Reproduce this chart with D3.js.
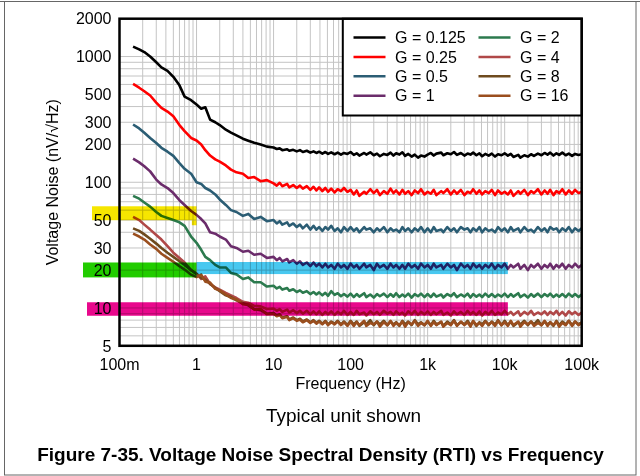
<!DOCTYPE html>
<html>
<head>
<meta charset="utf-8">
<script src="https://cdn.jsdelivr.net/npm/d3@7"></script>
<style>
  body { margin: 0; background: #fff; }
  text { font-family: "Liberation Sans", Arial, sans-serif; fill: #000; }
</style>
</head>
<body>
<svg id="chart" width="640" height="476"></svg>
<script>
// frequency points (Hz) shared by every curve
var freq = [0.15, 0.18, 0.21, 0.25, 0.3, 0.35, 0.42, 0.5, 0.6, 0.7, 0.85, 1, 1.15, 1.3, 1.5, 1.75, 2, 2.4, 2.8, 3.3, 4, 4.7, 5.6, 6.8, 8.2,
  10, 11, 12, 13, 15, 16, 18, 20, 22, 24, 27, 30, 33, 36, 39, 43, 47, 51, 56, 62, 68, 75, 82, 91,
  100, 110, 120, 130, 150, 160, 180, 200, 220, 240, 270, 300, 330, 360, 390, 430, 470, 510, 560, 620, 680, 750, 820, 910,
  1000, 1100, 1200, 1300, 1500, 1600, 1800, 2000, 2200, 2400, 2700, 3000, 3300, 3600, 3900, 4300, 4700, 5100, 5600, 6200, 6800, 7500, 8200, 9100,
  10000, 11000, 12000, 13000, 15000, 16000, 18000, 20000, 22000, 24000, 27000, 30000, 33000, 36000, 39000, 43000, 47000, 51000, 56000, 62000, 68000, 75000, 82000, 91000,
  100000];

// noise (nV/rtHz), one list per gain
var g0125 = [1200, 1140, 1085, 1000, 900, 820, 770, 690, 590, 480, 450, 415, 385, 395, 315, 300, 285, 262, 248, 236, 222, 214, 206, 200, 192,
  189, 184, 186, 180, 183, 178, 181, 176, 180, 174, 178, 172, 176, 171, 175, 169, 174, 168, 173, 167, 172, 166, 171, 168,
  174, 165, 170, 163, 171, 166, 173, 164, 169, 161, 168, 165, 172, 163, 170, 166, 173, 162, 168, 160, 166, 157, 163, 160,
  166, 171, 163, 169, 172, 164, 170, 167, 174, 165, 171, 163, 169, 166, 172, 164, 170, 161, 168, 163, 169, 160, 167, 164,
  170, 163, 168, 159, 165, 157, 164, 160, 167, 162, 169, 164, 171, 166, 172, 163, 170, 165, 172, 164, 169, 162, 168, 165,
  167];
var g025 = [605, 565, 530, 490, 430, 390, 365, 335, 285, 255, 225, 215, 200, 180, 163, 152, 146, 136, 126, 120, 117, 108, 110, 102, 104,
  98, 94, 99, 93, 97, 91, 95, 90, 94, 89, 93, 87, 92, 86, 91, 85, 90, 84, 89, 83, 88, 85, 90, 84,
  87, 80, 86, 78, 84, 81, 88, 82, 87, 79, 85, 81, 89, 82, 86, 80, 87, 81, 85, 79, 86, 82, 88, 80,
  84, 81, 87, 79, 85, 82, 88, 80, 86, 81, 87, 79, 84, 82, 88, 81, 86, 80, 85, 82, 87, 79, 86, 81,
  84, 80, 86, 78, 85, 81, 87, 79, 85, 82, 88, 80, 86, 81, 87, 79, 85, 82, 88, 80, 86, 81, 87, 82,
  84];
var g05 = [288, 268, 248, 225, 205, 188, 175, 162, 142, 128, 117, 100, 97, 90, 86, 80, 73, 66, 60, 58, 54, 56, 51, 53, 49,
  50, 47, 49, 46, 48, 45, 47, 44, 46, 43, 46, 42, 45, 42, 44, 41, 44, 42, 45, 41, 43, 40, 44, 41,
  44, 41, 43, 40, 44, 42, 43, 40, 43, 41, 44, 40, 43, 41, 42, 40, 44, 41, 43, 40, 43, 41, 44, 40,
  43, 40, 44, 41, 42, 40, 44, 41, 43, 40, 44, 42, 43, 40, 43, 41, 44, 40, 43, 41, 42, 40, 44, 41,
  43, 40, 44, 41, 43, 40, 44, 41, 42, 40, 44, 41, 43, 40, 44, 42, 43, 40, 43, 41, 44, 40, 43, 41,
  43];
var g1 = [154, 144, 134, 122, 105, 96, 90, 82, 72, 66, 59, 55, 51, 47, 40, 39, 37, 35, 31, 30, 28, 28.5, 26.5, 27, 25,
  25.5, 24, 25, 23.5, 24.5, 23, 24, 22.5, 23.5, 22, 23, 21.5, 23, 21.5, 22.5, 21, 22.5, 21, 22, 20.5, 22.5, 21, 22, 20.5,
  22.5, 21, 22, 20.5, 22.5, 21, 22, 20, 22.5, 21, 22, 20.5, 22.5, 21, 22, 20.5, 22, 20.5, 22.5, 21, 22, 20.5, 22.5, 21,
  22, 20.5, 22.5, 21, 22, 20.5, 22.5, 21, 22, 20, 22.5, 21, 22, 20.5, 22.5, 21, 22, 20.5, 22, 21, 22.5, 20.5, 22, 21,
  22.5, 20.5, 22, 21, 22.5, 20.5, 22, 20, 22, 21, 22.5, 20.5, 22, 21, 22.5, 20.5, 22, 21, 22.5, 20.5, 22, 21, 22.5, 21,
  22];
var g2 = [78, 74, 69, 64, 58, 54, 52, 50, 48, 45, 37, 33, 29, 25.5, 24, 22, 21, 21, 19, 18.5, 17, 17.5, 16, 16, 14.8,
  15, 14.3, 14.7, 14, 14.4, 13.7, 14.1, 13.4, 13.8, 13.2, 13.6, 12.9, 13.4, 12.8, 13.3, 12.6, 13.2, 12.5, 13.6, 12.7, 13.1, 12.4, 12.9, 12.3,
  13, 12.2, 12.9, 12.3, 13.1, 12.2, 12.8, 12.1, 12.9, 12.4, 13, 12.2, 12.9, 12.3, 13.1, 12.2, 12.8, 12.3, 13, 12.1, 12.9, 12.4, 13, 12.2,
  12.9, 12.2, 13, 12.3, 12.8, 12.1, 12.9, 12.4, 13.1, 12.2, 12.8, 12.3, 13, 12.1, 12.9, 12.3, 12.8, 12.2, 13, 12.3, 12.9, 12.2, 12.8, 12.3,
  13, 12.2, 12.9, 12.3, 13.1, 12.2, 12.8, 12.1, 12.9, 12.3, 13, 12.2, 12.9, 12.4, 13, 12.2, 12.8, 12.3, 12.9, 12.2, 13, 12.3, 12.9, 12.2,
  12.8];
var g4 = [53, 50, 46, 42, 38, 35, 31, 27.5, 25, 23, 20, 18.8, 17, 17.8, 15.5, 14.6, 14, 13.2, 12.6, 12, 11.2, 11, 10.4, 10.3, 9.8,
  9.9, 9.5, 9.8, 9.3, 9.7, 9.2, 9.6, 9.1, 9.5, 9, 9.5, 8.9, 9.4, 8.9, 9.4, 8.8, 9.3, 8.9, 9.4, 8.8, 9.3, 8.9, 9.5, 8.8,
  9.3, 8.8, 9.5, 8.9, 9.2, 8.7, 9.4, 8.9, 9.3, 8.8, 9.5, 9, 9.3, 8.8, 9.4, 8.9, 9.2, 8.7, 9.4, 8.9, 9.5, 8.8, 9.3, 8.9,
  9.4, 8.8, 9.3, 8.9, 9.5, 8.8, 9.2, 8.7, 9.4, 8.9, 9.3, 8.8, 9.5, 8.9, 9.3, 8.8, 9.4, 8.7, 9.3, 8.9, 9.5, 8.8, 9.2, 8.9,
  9.5, 8.9, 9.3, 8.8, 9.4, 8.7, 9.3, 8.9, 9.5, 8.8, 9.2, 8.9, 9.4, 8.8, 9.3, 8.9, 9.5, 8.8, 9.3, 8.7, 9.4, 8.9, 9.3, 8.8,
  9.2];
var g8 = [43, 41, 38.5, 35.5, 32.5, 30, 27.5, 25.5, 23.5, 22, 20, 18.6, 17.4, 16.8, 15.6, 14.4, 13.6, 12.6, 12.2, 11.5, 10.9, 10.5, 9.8, 9.6, 9.0,
  9.1, 8.7, 8.9, 8.4, 8.6, 8.1, 8.4, 8.0, 8.2, 7.8, 8.1, 7.7, 8.0, 7.6, 7.9, 7.5, 7.9, 7.4, 7.8, 7.5, 7.9, 7.4, 7.8, 7.3,
  7.9, 7.4, 7.8, 7.2, 7.7, 7.4, 8.0, 7.3, 7.8, 7.4, 7.9, 7.3, 7.8, 7.4, 7.7, 7.2, 7.9, 7.4, 7.8, 7.3, 8.0, 7.4, 7.7, 7.3,
  7.8, 7.3, 7.9, 7.4, 7.7, 7.2, 7.8, 7.4, 8.0, 7.3, 7.7, 7.4, 7.9, 7.3, 7.8, 7.2, 7.7, 7.4, 7.9, 7.3, 7.8, 7.4, 8.0, 7.3,
  7.9, 7.3, 7.8, 7.2, 7.7, 7.4, 7.9, 7.3, 7.8, 7.4, 8.0, 7.3, 7.8, 7.4, 7.7, 7.2, 7.9, 7.3, 7.8, 7.4, 7.9, 7.3, 7.8, 7.4,
  7.7];
var g16 = [39, 37, 35, 32, 29.5, 27, 25, 23.3, 21.5, 20.2, 18.4, 17.6, 18.4, 16.2, 15.9, 14.2, 13.8, 12.8, 12.0, 11.7, 10.7, 10.6, 9.7, 9.8, 8.9,
  9.0, 8.6, 8.8, 8.3, 8.5, 8.0, 8.3, 7.9, 8.1, 7.7, 8.0, 7.6, 7.9, 7.5, 7.8, 7.4, 7.8, 7.3, 7.7, 7.4, 7.8, 7.3, 7.7, 7.2,
  7.8, 7.2, 7.7, 7.3, 7.9, 7.2, 7.6, 7.4, 7.8, 7.1, 7.7, 7.3, 7.9, 7.2, 7.6, 7.3, 7.8, 7.1, 7.7, 7.4, 7.9, 7.2, 7.6, 7.3,
  7.9, 7.2, 7.7, 7.3, 7.8, 7.1, 7.6, 7.3, 7.9, 7.2, 7.8, 7.3, 7.7, 7.1, 7.9, 7.3, 7.6, 7.2, 7.8, 7.4, 7.7, 7.2, 7.9, 7.3,
  7.7, 7.2, 7.9, 7.3, 7.8, 7.1, 7.7, 7.4, 7.8, 7.2, 7.6, 7.3, 7.9, 7.2, 7.7, 7.3, 7.8, 7.1, 7.6, 7.3, 7.9, 7.2, 7.8, 7.3,
  7.6];

var gainNames = ["G = 0.125", "G = 0.25", "G = 0.5", "G = 1", "G = 2", "G = 4", "G = 8", "G = 16"];
var gainValues = [g0125, g025, g05, g1, g2, g4, g8, g16];

var xTicks = [0.1, 1, 10, 100, 1000, 10000, 100000];
var xTickLabels = ["100m", "1", "10", "100", "1k", "10k", "100k"];
var yTicks = [2000, 1000, 500, 300, 200, 100, 50, 30, 20, 10, 5];

// highlight bands: noise level low/high and the frequency where they stop
var bandLow = [49.9, 18.6, 17.5, 8.67];
var bandHigh = [64.4, 23.2, 23.0, 11.1];
var bandEnd = [1, 11000, 1, 11000];

var colors = ["#000000", "#ff0000", "#2b5d74", "#6b2c6b", "#2c7a4e", "#b04848", "#6e4a1e", "#9a4e1e"];

// Set the dimensions and margins of the diagram
var margin = {top: 18.7, right: 58.3, bottom: 130.2, left: 119.5},
    width = 640 - margin.left - margin.right,
    height = 476 - margin.top - margin.bottom;

var svg = d3.select("#chart");

// outer page frame
svg.append("line").attr("x1", 0).attr("x2", 640).attr("y1", 1.5).attr("y2", 1.5)
    .attr("stroke", "#666").attr("stroke-width", 1);
svg.append("rect").attr("x", 4.5).attr("y", 1.5).attr("width", 631.5).attr("height", 473.5)
    .attr("fill", "none").attr("stroke", "#666").attr("stroke-width", 1);

var g = svg.append("g")
    .attr("transform", "translate(" + margin.left + "," + margin.top + ")");

var x = d3.scaleLog().domain([0.1, 100000]).range([0, width]);
var y = d3.scaleLog().domain([5, 2000]).range([height, 0]);

// ****************** grid ***************************
g.selectAll("line.vgrid")
    .data(x.ticks())
  .enter().append("line")
    .attr("class", "vgrid")
    .attr("x1", d => x(d)).attr("x2", d => x(d))
    .attr("y1", 0).attr("y2", height)
    .attr("stroke", "#c4c4c4").attr("stroke-width", 1);

g.selectAll("line.hgrid")
    .data(y.ticks())
  .enter().append("line")
    .attr("class", "hgrid")
    .attr("x1", 0).attr("x2", width)
    .attr("y1", d => y(d)).attr("y2", d => y(d))
    .attr("stroke", "#c4c4c4").attr("stroke-width", 1);

// ****************** curves ***************************
g.append("clipPath").attr("id", "plotclip")
  .append("rect").attr("width", width).attr("height", height);

var line = d3.line()
    .x(d => x(d[0]))
    .y(d => y(d[1]));

g.append("g").attr("clip-path", "url(#plotclip)")
  .selectAll("path.curve")
    .data(gainValues)
  .enter().append("path")
    .attr("class", "curve")
    .attr("fill", "none")
    .attr("stroke", (d, i) => colors[i])
    .attr("stroke-width", 2.6)
    .attr("stroke-linejoin", "round")
    .attr("d", d => line(d3.zip(freq, d)));

// ****************** highlight bands ***************************
// bands reach into the tick label column, so their left edge is an offset from the axis
var bandLeft = [-27.5, -36.5, -36.5, -32.5];
var bandStart = [null, 1, null, null];
var bandColor = ["#f6e600", "#48c8f0", "#22cc00", "#e8088c"];

var bands = g.append("g");
bandLow.forEach(function(lo, i) {
  var x0 = bandStart[i] ? x(bandStart[i]) : bandLeft[i];
  bands.append("rect")
      .attr("x", x0)
      .attr("y", y(bandHigh[i]))
      .attr("width", x(bandEnd[i]) - x0)
      .attr("height", y(lo) - y(bandHigh[i]))
      .attr("fill", bandColor[i])
      .style("mix-blend-mode", "multiply");
});
// small yellow tab hanging below the 50 band
bands.append("rect")
    .attr("x", x(0.87)).attr("y", y(bandLow[0]))
    .attr("width", x(1) - x(0.87)).attr("height", y(45.5) - y(bandLow[0]))
    .attr("fill", bandColor[0])
    .style("mix-blend-mode", "multiply");

// ****************** axes labels ***************************
g.selectAll("text.ytick")
    .data(yTicks)
  .enter().append("text")
    .attr("class", "ytick")
    .attr("x", -8)
    .attr("y", d => y(d))
    .attr("dy", "0.36em")
    .attr("text-anchor", "end")
    .style("font-size", "16px")
    .text(d => d);

g.selectAll("text.xtick")
    .data(xTicks)
  .enter().append("text")
    .attr("class", "xtick")
    .attr("x", d => x(d))
    .attr("y", height + 24)
    .attr("text-anchor", "middle")
    .style("font-size", "16px")
    .text((d, i) => xTickLabels[i]);

g.append("text")
    .attr("x", width / 2)
    .attr("y", height + 43)
    .attr("text-anchor", "middle")
    .style("font-size", "16px")
    .text("Frequency (Hz)");

g.append("text")
    .attr("transform", "translate(-67," + (height / 2) + ") rotate(-90)")
    .attr("text-anchor", "middle")
    .attr("dy", "0.36em")
    .style("font-size", "16px")
    .text("Voltage Noise (nV/\u221AHz)");

// ****************** legend ***************************
var legend = g.append("g");
legend.append("rect")
    .attr("x", 342.8 - margin.left).attr("y", 0)
    .attr("width", width - (342.8 - margin.left)).attr("height", 96.8)
    .attr("fill", "#fff").attr("stroke", "#000").attr("stroke-width", 2);

var items = legend.selectAll("g.item")
    .data(gainNames)
  .enter().append("g")
    .attr("class", "item")
    .attr("transform", function(d, i) {
      var col = Math.floor(i / 4), row = i % 4;
      return "translate(" + (353.5 - margin.left + col * 125) + "," + (37.5 - margin.top + row * 19.4) + ")";
    });
items.append("line")
    .attr("x1", 0).attr("x2", 32)
    .attr("stroke", (d, i) => colors[i])
    .attr("stroke-width", 2.5);
items.append("text")
    .attr("x", 41.5)
    .attr("dy", "0.36em")
    .style("font-size", "16px")
    .text(d => d);

// plot frame on top
g.append("rect")
    .attr("width", width).attr("height", height)
    .attr("fill", "none").attr("stroke", "#000").attr("stroke-width", 2.5);

// ****************** captions ***************************
svg.append("text")
    .attr("x", 343.5).attr("y", 421.5)
    .attr("text-anchor", "middle")
    .style("font-size", "19px")
    .text("Typical unit shown");

svg.append("text")
    .attr("x", 320.5).attr("y", 461)
    .attr("text-anchor", "middle")
    .style("font-size", "19px")
    .style("font-weight", "bold")
    .text("Figure 7-35. Voltage Noise Spectral Density (RTI) vs Frequency");
</script>
</body>
</html>
